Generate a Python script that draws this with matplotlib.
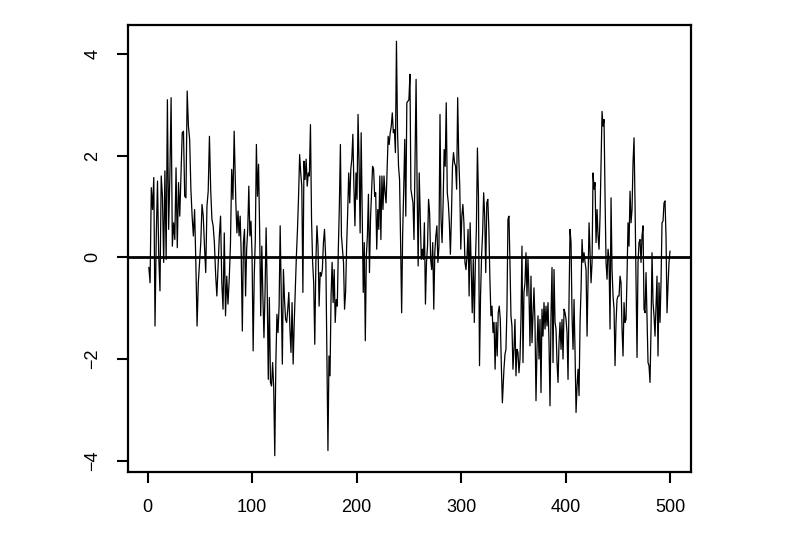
import numpy as np
import matplotlib
matplotlib.use("Agg")
import matplotlib.pyplot as plt

# Values, in six consecutive stretches of the series
seg1 = [-0.20, -0.50, 1.37, 0.94, 1.57, -1.35, 0.42, 1.50, 0.03, -0.66, 1.60, 1.20, -0.10, 1.70, -0.04,
        3.10, 0.55, 1.60, 3.14, 0.22, 0.68, 0.35, 1.76, 0.19, 1.47, 0.81, 1.60, 2.45, 2.48, 1.20, 1.17,
        3.27, 2.58, 2.32, 1.34, 0.81, 0.42, 0.94, -0.10, -1.35, -0.50, -0.10, 0.29, 1.04, 0.81, 0.22,
        -0.30, 1.01, 1.30, 2.38, 1.34, 0.75, 0.62, 0.29, -0.33, -0.76, -0.17, 0.42, 0.81, -0.50, -1.02,
        0.48, -1.15, -0.37, -0.92, -0.43, 0.26, 1.73, 1.14, 2.48]
seg2 = [1.07, 0.48, 0.91, 0.42, 0.81, 0.03, -1.45, 0.29, 0.55, -0.76, 0.16, 0.55, 1.40, 0.42, 0.71,
        0.03, -1.84, -0.37, 0.35, 2.22, 1.20, 1.83, 0.55, -1.15, 0.22, -0.76, -1.58, -0.69, 0.58, -0.63,
        -2.40, -0.79, -2.46, -2.53, -2.07, -2.56, -3.90, -2.07, -1.12, -1.48, -0.96, 0.62, -0.76, -2.10,
        -0.24, -0.83, -1.22, -1.28, -1.02, -0.69, -1.41, -1.87, -0.89, -2.10, -1.28, -0.63, 0.03, 0.55,
        1.20, 2.02, 1.66, 1.40, -0.69, 1.89, 1.53, 1.93, 1.40, 1.66, 1.60, 2.61, 0.75, -0.10, -0.50,
        -1.71, -0.10, 0.62, 0.22, -0.96, -0.30, -0.37, -0.24, 0.29, 0.55]
seg3 = [-0.10, -1.94, -3.80, -1.94, -2.33, -0.76, -0.10, -0.89, -0.24, -1.28, -0.83, -0.96, 0.16, 1.01,
        2.22, 0.42, 0.16, -0.10, -1.02, -0.69, 0.22, 0.88, 1.66, 1.07, 1.73, 1.93, 2.42, 1.40, 0.62, 1.66,
        1.14, 2.81, 1.86, 0.48, 2.45, 0.81, -0.69, 0.29, -1.64, 0.03, 0.42, 1.24, -0.30, 0.75, 1.27, 1.79,
        1.73, 1.20, 1.27, 0.16, 0.94, 0.55, 1.60, 0.35, 1.60, 0.94, 1.60, 1.27, 1.07, 1.73, 2.38, 2.22,
        2.45, 2.58, 2.84, 2.45, 2.51, 2.06, 4.25, 2.51, 1.79, 1.53, 0.29, -1.09, 0.48, 1.34, 2.32, 0.81,
        3.04, 3.07, 3.10, 3.60]
seg4 = [1.34, 1.20, 1.07, 0.35, 1.93, 3.50, 1.34, -0.17, 1.66, 0.81, -0.04, 0.16, -0.04, 0.68, -0.92,
        -0.10, 0.22, 1.14, 0.88, -0.04, -0.24, 0.29, -1.02, 0.09, 0.42, 0.62, -0.10, 0.22, 2.81, 0.75,
        0.29, 1.07, 2.12, 1.79, 3.04, 1.27, 1.07, 0.68, 0.06, 0.81, 1.79, 2.06, 1.86, 1.79, 1.34, 3.14,
        1.99, 1.40, 0.16, 0.81, 1.04, 0.68, -0.10, -0.24, 0.03, 0.55, -0.76, 0.68, -0.24, -1.09, -0.04,
        -1.28, -0.10, 0.55, 2.15, 1.20, -2.13, -0.76, 0.03, 0.48, 1.27, 0.81, -0.30, 1.07, 1.14, 0.55,
        -0.43, -1.15, -0.96, -1.48, -1.28, -2.20, -1.28, -1.94, -1.09, -0.96, -1.22, -2.13, -2.86]
seg5 = [-2.20, -1.91, -1.81, -1.02, 0.75, 0.81, -0.10, -1.15, -1.35, -2.20, -1.81, -1.22, -2.33, -1.81,
        -1.87, -2.27, -2.00, -1.22, 0.22, -2.07, -0.69, -0.50, 0.09, -0.76, -0.04, -0.69, -1.74, -0.37,
        -1.68, -1.15, -0.60, -1.28, -2.82, -1.81, -1.15, -2.00, -1.22, -2.66, -1.02, -1.55, -0.89, -1.41,
        -0.96, -1.35, -0.89, -1.68, -2.92, -1.15, -0.20, -2.07, -0.24, -1.28, -1.41, -2.07, -2.46, -1.68,
        -1.28, -1.81, -1.22, -2.00, -1.02, -1.09, -1.22, -1.48, -2.40, -0.83, 0.55, 0.29, -1.15, -1.81,
        -0.83, -1.87, -3.05, -2.53, -2.20, -2.72, -1.28, -0.63, 0.35, -0.10, 0.09, -0.10, -0.24, -1.55,
        -0.37, 0.68]
seg6 = [-0.50, -0.10, 1.66, 1.34, 1.47, 0.29, 0.94, 0.42, 0.16, 0.81, 1.86, 2.87, 2.58, 2.71, 1.20,
        -0.10, -0.43, 0.16, -0.04, -1.41, 1.17, -0.24, -0.76, -1.02, -2.13, -1.28, -0.83, -0.76, -0.76,
        -0.37, -0.50, -1.41, -1.94, -0.89, -1.28, -1.22, -0.37, 0.68, 0.22, 1.30, 0.68, 0.94, 1.86, 2.35,
        1.07, -0.50, -1.97, -0.10, 0.29, 0.35, -0.10, 0.42, 0.62, -1.02, -1.09, -0.30, -1.22, -2.07,
        -2.13, -2.46, -1.41, 0.09, -0.89, -1.15, -1.55, -0.96, -0.37, -1.94, -0.50, -1.28, -0.50, 0.68,
        0.71, 1.07, 1.11, 0.42, -1.09, -0.56, -0.10, 0.12]

# time index spanned by each stretch
seg_start = [1, 84.3, 170.5, 251.9, 341.0, 424.4]
seg_end = [82.7, 169.2, 251.0, 339.5, 422.5, 500]

xticks = [0, 100, 200, 300, 400, 500]
yticks = [-4, -2, 0, 2, 4]

segments = [seg1, seg2, seg3, seg4, seg5, seg6]
xs, ys = [], []
for s, a, b in zip(segments, seg_start, seg_end):
    xs.append(np.linspace(a, b, len(s)))
    ys.append(np.array(s))
x = np.concatenate(xs)
y = np.concatenate(ys)

plt.rcParams['font.family'] = ['Liberation Sans', 'DejaVu Sans']
fig = plt.figure(figsize=(7.95, 5.36), dpi=100)
ax = fig.add_axes([0.161, 0.119, 0.708, 0.835])
ax.plot(x, y, color='black', lw=0.9)
ax.axhline(0, color='black', lw=2.0)

xr = x.max() - x.min()
ax.set_xlim(x.min() - 0.04 * xr, x.max() + 0.04 * xr)
yr = y.max() - y.min()
ax.set_ylim(y.min() - 0.04 * yr, y.max() + 0.04 * yr)

ax.set_xticks(xticks)
ax.set_yticks(yticks)
ax.set_xticklabels([str(v) for v in xticks], fontsize=13)
ax.set_yticklabels([str(v).replace('-', '\u2212') for v in yticks], fontsize=13,
                   rotation=90, va='center')
ax.tick_params(direction='out', length=8, width=1.5, pad=11, color='black')
for sp in ax.spines.values():
    sp.set_linewidth(1.6)
    sp.set_color('black')

fig.savefig('out.png', dpi=100)
